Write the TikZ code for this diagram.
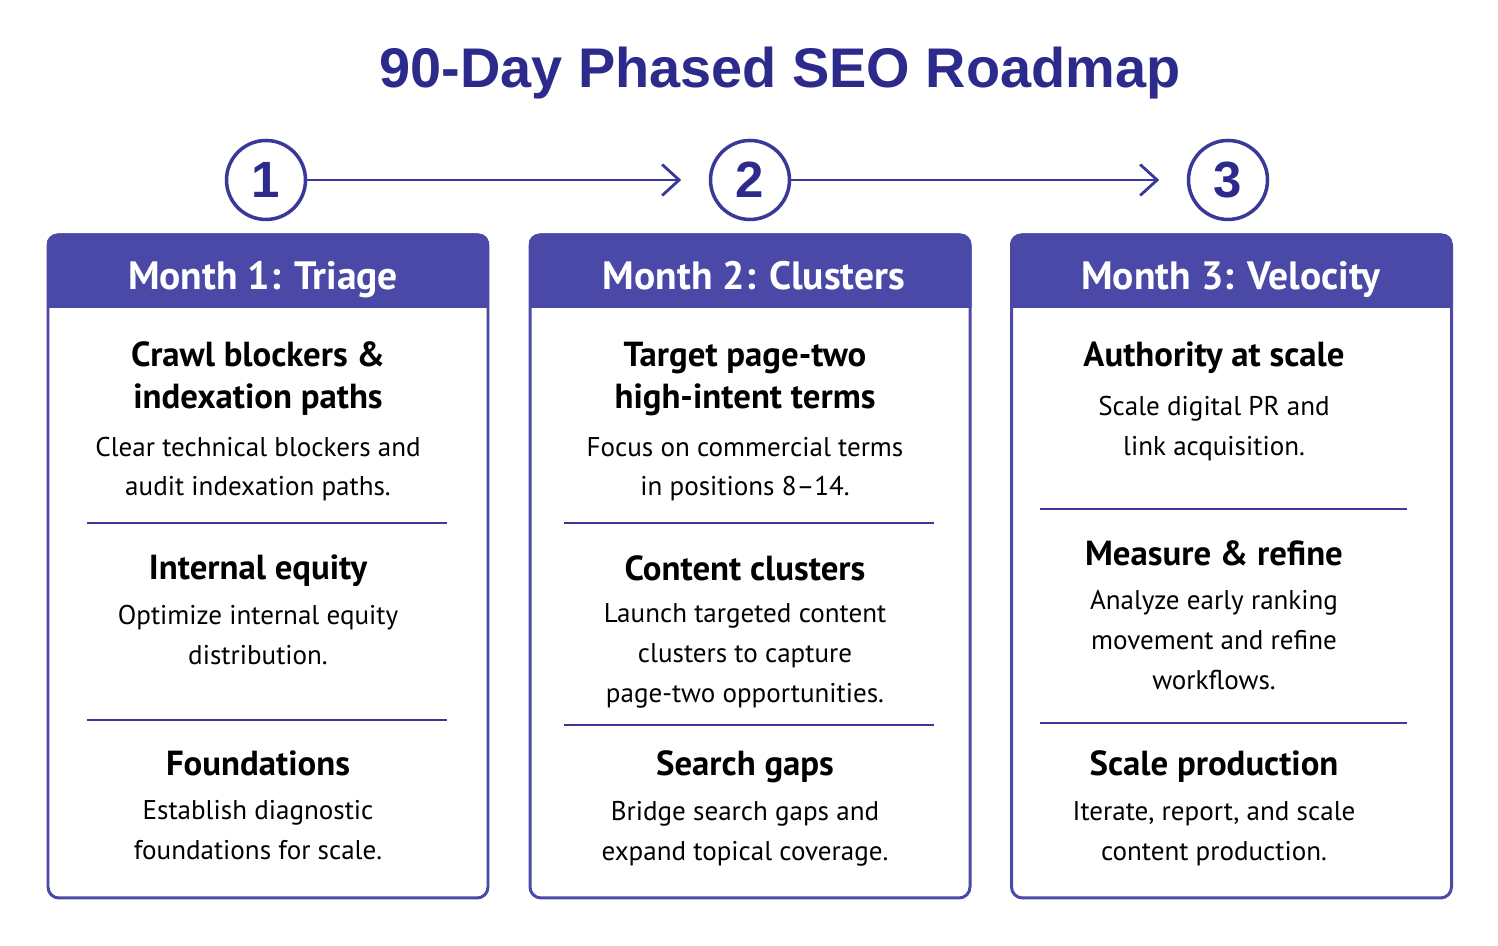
\documentclass[tikz,border=0pt]{standalone}
\usepackage{fontspec}
\setmainfont{PT Sans}
\newfontfamily\titlefont{Liberation Sans}
\usepackage{tikz}
\usetikzlibrary{arrows.meta, positioning}
\definecolor{roadmapblue}{RGB}{44,42,138}
\definecolor{monthcolor}{RGB}{74,73,168}
\definecolor{linkcolor}{RGB}{58,56,152}

\begin{document}
\begin{tikzpicture}[
        month/.style={rectangle, draw=monthcolor, line width=1.7pt, rounded corners=0.22cm, minimum width=8.8cm, minimum height=13.26cm},
        monthhead/.style={text=white, anchor=base, font=\fontsize{22.5}{26}\selectfont\bfseries},
        phase/.style={circle, draw=linkcolor, line width=2pt, minimum size=1.58cm, inner sep=0pt, text=roadmapblue, font=\titlefont\fontsize{29}{30}\selectfont\bfseries},
        topic/.style={align=center, font=\fontsize{19.8}{23.9}\selectfont\bfseries},
        detail/.style={align=center, font=\fontsize{15.4}{22.6}\selectfont},
        divider/.style={draw=linkcolor, line width=1.1pt},
        arrow/.style={-{Straight Barb[length=0.34cm, width=0.62cm]}, line width=1.6pt, draw=linkcolor, shorten >=0.55cm}
    ]
        \useasboundingbox (0,0) rectangle (29.96,18.92);

        % Title
        \node[text=roadmapblue, font=\titlefont\fontsize{31.8}{35}\selectfont\bfseries] (title) at (15.6,17.46) {90-Day Phased SEO Roadmap};

        % Phase markers
        \node[phase] (p1) at (5.32,15.32) {1};
        \node[phase] (p2) at (15.0,15.32) {2};
        \node[phase] (p3) at (24.56,15.32) {3};

        \draw[arrow] (p1) -- (p2);
        \draw[arrow] (p2) -- (p3);

        % Month frames
        \node[month] (m1) at (5.36,7.59) {};
        \node[month] (m2) at (15.0,7.59) {};
        \node[month] (m3) at (24.63,7.59) {};

        % Header bands
        \begin{scope}
            \clip[rounded corners=0.22cm] (m1.south west) rectangle (m1.north east);
            \fill[monthcolor] (m1.north west) rectangle ([yshift=-1.5cm]m1.north east);
        \end{scope}
        \begin{scope}
            \clip[rounded corners=0.22cm] (m2.south west) rectangle (m2.north east);
            \fill[monthcolor] (m2.north west) rectangle ([yshift=-1.5cm]m2.north east);
        \end{scope}
        \begin{scope}
            \clip[rounded corners=0.22cm] (m3.south west) rectangle (m3.north east);
            \fill[monthcolor] (m3.north west) rectangle ([yshift=-1.5cm]m3.north east);
        \end{scope}

        \node[monthhead] (h1) at (5.26,13.12) {Month 1: Triage};
        \node[monthhead] (h2) at (15.08,13.12) {Month 2: Clusters};
        \node[monthhead] (h3) at (24.62,13.12) {Month 3: Velocity};

        % Month 1 content
        \node[topic] (t11) at (5.16,11.34) {Crawl blockers \&\\indexation paths};
        \node[detail] (b11) at (5.16,9.54) {Clear technical blockers and\\audit indexation paths.};
        \draw[divider] (1.74,8.46) -- (8.94,8.46);
        \node[topic] (t12) at (5.16,7.50) {Internal equity};
        \node[detail] (b12) at (5.16,6.22) {Optimize internal equity\\distribution.};
        \draw[divider] (1.74,4.52) -- (8.94,4.52);
        \node[topic] (t13) at (5.16,3.66) {Foundations};
        \node[detail] (b13) at (5.16,2.32) {Establish diagnostic\\foundations for scale.};

        % Month 2 content
        \node[topic] (t21) at (14.9,11.34) {Target page-two\\high-intent terms};
        \node[detail] (b21) at (14.9,9.54) {Focus on commercial terms\\in positions 8--14.};
        \draw[divider] (11.28,8.46) -- (18.68,8.46);
        \node[topic] (t22) at (14.9,7.56) {Content clusters};
        \node[detail] (b22) at (14.9,5.80) {Launch targeted content\\clusters to capture\\page-two opportunities.};
        \draw[divider] (11.28,4.42) -- (18.68,4.42);
        \node[topic] (t23) at (14.9,3.58) {Search gaps};
        \node[detail] (b23) at (14.9,2.24) {Bridge search gaps and\\expand topical coverage.};

        % Month 3 content
        \node[topic] (t31) at (24.28,11.76) {Authority at scale};
        \node[detail] (b31) at (24.28,10.35) {Scale digital PR and\\link acquisition.};
        \draw[divider] (20.8,8.74) -- (28.14,8.74);
        \node[topic] (t32) at (24.28,7.86) {Measure \& refine};
        \node[detail] (b32) at (24.28,6.12) {Analyze early ranking\\movement and refine\\workflows.};
        \draw[divider] (20.8,4.46) -- (28.14,4.46);
        \node[topic] (t33) at (24.28,3.58) {Scale production};
        \node[detail] (b33) at (24.28,2.24) {Iterate, report, and scale\\content production.};

    \end{tikzpicture}
\end{document}
